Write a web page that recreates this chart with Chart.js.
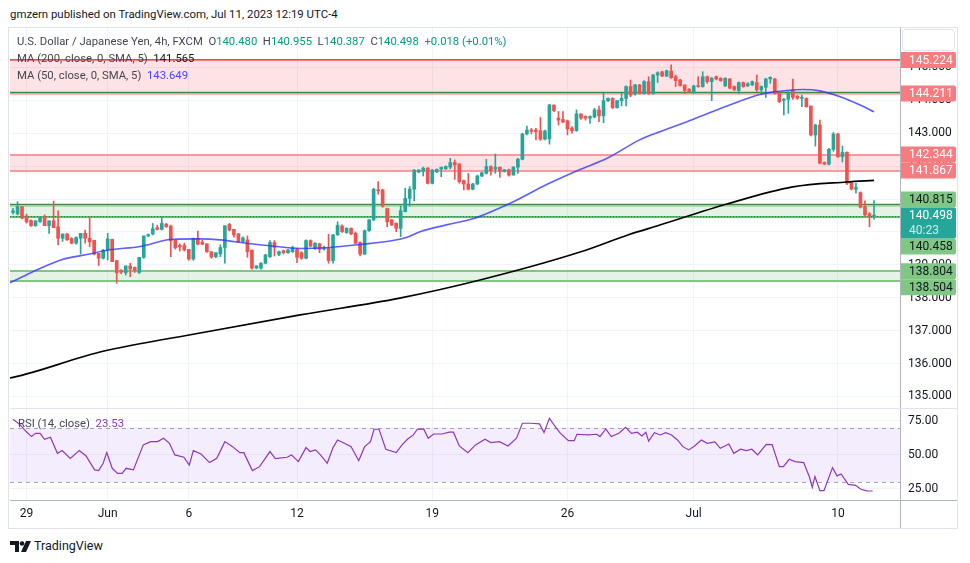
<!DOCTYPE html>
<html><head><meta charset="utf-8">
<script src="https://cdn.jsdelivr.net/npm/chart.js@4.4.0/dist/chart.umd.min.js"></script>
<style>
html,body{margin:0;padding:0;background:#fff;width:970px;height:563px;overflow:hidden;font-family:Roboto,"Noto Sans",sans-serif;color:#131722;}
#wrap{position:relative;width:970px;height:563px;}
canvas{position:absolute;left:0;}
.t{position:absolute;white-space:nowrap;font-size:11.3px;line-height:14px;}
.v{color:#089981;}
</style></head><body>
<div id="wrap">
 <div class="t" style="left:10px;top:7px;font-size:11.4px;color:#131722">gmzern published on TradingView.com, Jul 11, 2023 12:19 UTC-4</div>
 <div style="position:absolute;left:8px;top:27px;width:950px;height:502px;border:1px solid #e0e3eb;box-sizing:border-box"></div>
 <canvas id="main" width="970" height="380" style="top:28px"></canvas>
 <canvas id="rsi" width="970" height="120" style="top:408px"></canvas>
 <div class="t" style="left:17px;top:35px;color:#434651">U.S. Dollar / Japanese Yen, 4h, FXCM&nbsp;&nbsp;O<span class="v">140.480</span>&nbsp;&nbsp;H<span class="v">140.955</span>&nbsp;&nbsp;L<span class="v">140.387</span>&nbsp;&nbsp;C<span class="v">140.498</span>&nbsp;&nbsp;<span class="v">+0.018 (+0.01%)</span></div>
 <div class="t" style="left:17px;top:52px;color:#434651">MA (200, close, 0, SMA, 5)&nbsp;&nbsp;<span style="color:#131722">141.565</span></div>
 <div class="t" style="left:17px;top:69px;color:#434651">MA (50, close, 0, SMA, 5)&nbsp;&nbsp;<span style="color:#4646ff">143.649</span></div>
 <div class="t" style="left:18px;top:417px;color:#434651">RSI (14, close)&nbsp;&nbsp;<span style="color:#9037b8">23.53</span></div>
 <div style="position:absolute;left:902px;top:29px;width:53px;height:22px;border:1px solid #e0e3eb;border-radius:4px;background:#fff;box-sizing:border-box"></div>
 <svg style="position:absolute;left:10px;top:540px" width="24" height="13" viewBox="0 0 24 13">
  <path d="M0 1h9v11H5V5H0z" fill="#131722"/><circle cx="12" cy="3.5" r="2.3" fill="#131722"/><path d="M16 1h5l-5 11h-5z" fill="#131722"/>
 </svg>
 <div class="t" style="left:34px;top:538px;font-size:12.5px;line-height:16px;color:#131722">TradingView</div>
</div>
<script>
// ---------- data ----------
const O = [
140.60,140.55,140.77,140.44,140.35,140.19,140.31,140.47,140.19,140.34,
140.16,139.81,139.94,139.80,139.66,139.81,139.96,139.81,139.75,139.35,
139.20,139.45,139.78,139.13,138.82,138.76,138.97,138.92,138.77,139.23,
139.88,139.94,140.13,140.08,140.24,140.18,139.75,139.59,139.59,139.47,
139.18,139.81,139.69,139.64,139.40,139.25,139.33,139.53,140.23,140.08,
139.94,139.71,139.76,139.45,138.90,138.90,139.05,139.25,139.68,139.32,
139.43,139.37,139.40,139.47,139.37,139.20,139.74,139.50,139.64,139.48,
139.50,139.13,139.91,140.18,139.98,140.11,139.96,139.68,139.33,140.04,
140.37,141.28,141.28,140.71,140.37,140.26,140.11,140.62,141.02,141.30,
141.82,141.85,141.94,141.48,141.83,141.91,141.92,141.97,142.11,142.07,
141.56,141.46,141.30,141.46,141.70,141.78,141.99,141.91,141.97,141.84,
141.89,141.73,141.97,142.21,142.98,143.10,143.10,143.08,142.82,142.83,
143.86,143.46,143.42,143.38,143.16,143.08,143.59,143.51,143.46,143.49,
143.71,143.53,143.99,144.06,143.78,143.99,144.06,144.42,144.19,144.47,
144.21,144.57,144.21,144.77,144.87,144.74,144.89,144.72,144.62,144.47,
144.34,144.24,144.44,144.42,144.72,144.57,144.72,144.67,144.44,144.65,
144.42,144.30,144.54,144.45,144.47,144.54,144.32,144.40,144.65,144.65,
144.21,144.00,144.03,144.32,144.13,144.06,144.06,143.83,142.95,143.25,
142.11,142.06,142.51,142.98,142.29,142.42,141.48,141.30,141.20,140.77,
140.55,140.480];
const H = [
140.72,140.92,140.77,140.54,140.37,140.34,140.46,140.52,140.34,140.94,
140.64,139.94,139.96,139.83,139.85,139.96,140.06,140.44,139.75,139.35,
139.47,139.96,139.78,139.13,138.86,138.97,139.05,138.94,139.23,139.88,
139.94,140.26,140.21,140.46,140.26,140.21,139.75,139.64,139.66,139.47,
139.81,140.03,139.75,139.64,139.40,139.37,139.61,140.19,140.26,140.08,
139.96,139.85,139.88,139.45,138.97,139.07,139.32,139.74,139.74,139.42,
139.45,139.47,139.57,139.50,139.40,139.76,139.76,139.68,139.66,139.57,
139.93,139.93,140.31,140.22,140.13,140.13,140.00,139.70,140.06,140.38,
141.33,141.53,141.30,140.73,140.38,140.28,140.79,141.33,141.38,141.90,
141.90,141.97,141.96,141.90,141.92,141.97,142.01,142.24,142.19,142.07,
141.58,141.78,141.48,141.73,141.82,142.21,142.01,142.37,141.97,141.90,
141.91,141.99,142.24,143.00,143.22,143.15,143.15,143.48,143.10,143.88,
143.86,143.66,143.66,143.40,143.20,143.71,143.59,143.53,143.53,143.76,
143.83,144.21,144.08,144.08,144.00,144.21,144.44,144.62,144.49,144.49,
144.60,144.72,144.79,144.87,144.88,144.92,145.08,144.77,144.64,144.47,
144.36,144.46,144.72,144.87,144.74,144.70,144.74,144.69,144.69,144.67,
144.44,144.56,144.56,144.54,144.59,144.77,144.44,144.67,144.72,144.67,
144.24,144.06,144.27,144.65,144.15,144.16,144.08,143.83,143.27,143.40,
142.13,142.54,143.02,143.00,142.61,142.44,141.50,141.48,141.22,140.95,
140.59,140.955];
const L = [
140.54,140.52,140.40,140.27,140.17,140.17,140.29,140.19,139.96,140.13,
139.61,139.71,139.74,139.64,139.63,139.33,139.66,139.55,139.30,138.98,
139.18,139.15,139.10,138.44,138.73,138.69,138.64,138.77,138.74,139.20,
139.86,139.91,140.06,140.06,140.14,139.25,139.48,139.42,139.42,139.14,
139.14,139.61,139.61,139.38,139.20,139.22,139.25,139.05,140.03,139.84,
139.68,139.68,139.23,138.87,138.88,138.87,139.03,139.23,139.27,139.28,
139.33,139.35,139.38,139.07,139.17,139.18,139.55,139.47,139.37,139.45,
139.05,139.05,139.90,139.99,139.96,139.92,139.64,139.27,139.31,140.02,
140.34,141.15,140.75,140.16,140.20,140.01,139.86,140.61,140.79,140.94,
141.80,141.70,141.46,141.46,141.80,141.68,141.90,141.92,141.60,141.48,
141.28,141.28,141.28,141.44,141.68,141.76,141.73,141.78,141.66,141.82,
141.70,141.73,141.78,142.19,142.95,142.98,142.80,142.78,142.80,142.67,
143.66,143.25,143.32,142.95,143.00,143.06,143.42,143.40,143.30,143.47,
143.35,143.32,143.96,143.75,143.76,143.83,143.83,144.11,144.16,144.19,
144.19,144.18,144.19,144.54,144.72,144.72,144.67,144.42,144.43,144.21,
144.25,144.21,144.40,144.40,144.52,143.99,144.62,144.58,144.42,144.35,
144.30,144.21,144.40,144.42,144.45,144.27,144.19,144.09,144.52,144.19,
143.93,143.56,143.61,144.03,144.03,143.81,143.79,142.92,142.61,142.07,
142.04,142.04,142.45,142.27,142.13,141.44,141.28,141.18,140.73,140.47,
140.16,140.387];
const C = [
140.64,140.77,140.42,140.31,140.19,140.34,140.44,140.19,140.34,140.13,
139.81,139.94,139.76,139.66,139.83,139.96,139.81,139.70,139.33,139.20,
139.45,139.79,139.10,138.76,138.78,138.97,138.87,138.83,139.23,139.88,
139.92,140.10,140.08,140.26,140.16,139.73,139.52,139.55,139.45,139.18,
139.81,139.63,139.63,139.40,139.24,139.37,139.53,140.19,140.06,139.91,
139.71,139.82,139.40,138.90,138.97,139.05,139.30,139.68,139.53,139.40,
139.37,139.45,139.52,139.23,139.20,139.74,139.57,139.66,139.47,139.52,
139.13,139.91,140.20,140.01,140.11,139.94,139.66,139.33,140.04,140.37,
141.30,141.25,140.79,140.31,140.21,140.11,140.65,141.02,141.30,141.88,
141.88,141.94,141.48,141.88,141.90,141.97,141.99,142.11,142.04,141.53,
141.46,141.30,141.46,141.70,141.80,141.99,141.86,141.97,141.85,141.89,
141.73,141.97,142.21,142.98,143.10,143.06,143.05,142.82,143.07,143.86,
143.69,143.40,143.34,143.13,143.08,143.59,143.46,143.46,143.51,143.71,
143.53,143.99,144.06,143.78,143.99,144.06,144.42,144.16,144.47,144.21,
144.57,144.21,144.77,144.84,144.74,144.90,144.69,144.60,144.45,144.30,
144.27,144.44,144.42,144.72,144.57,144.67,144.65,144.60,144.67,144.37,
144.32,144.54,144.42,144.50,144.57,144.32,144.42,144.65,144.70,144.21,
143.96,144.03,144.21,144.09,144.06,144.08,143.81,142.95,143.25,142.09,
142.06,142.51,142.98,142.29,142.42,141.48,141.30,141.35,140.75,140.52,
140.48,140.498];

// moving averages: [bar index, value]
const MA50 = [[-1,138.44],[0,138.50],[4.4,138.79],[10.6,139.15],[17,139.33],[21.1,139.45],[28.2,139.56],[35.5,139.78],[41.5,139.79],[46,139.76],[52.6,139.64],[57,139.58],[63.7,139.50],[70.3,139.53],[77,139.62],[84.3,139.74],[87.4,139.84],[90.3,140.01],[97,140.24],[102,140.40],[111,140.92],[118.5,141.45],[125.8,141.90],[131.8,142.24],[139,142.80],[143.5,143.05],[150.8,143.42],[158.4,143.83],[165.7,144.18],[171.7,144.30],[175.2,144.33],[179,144.29],[183.5,144.11],[187.9,143.86],[191,143.65]];
const MA200 = [[-1,135.56],[0,135.58],[19.3,136.35],[41.5,136.93],[63.7,137.48],[85.8,137.99],[103.6,138.54],[125.8,139.39],[136.4,139.91],[143.5,140.21],[158.4,140.85],[173,141.37],[185,141.52],[191,141.57]];

// RSI: [bar index, value]
const RSI = [[0,76.2],[1.6,72.1],[2.9,67.2],[4.1,63.5],[5,65.9],[6,65.9],[7,61.5],[8.3,63.0],[9.85,51.2],[10.9,53.2],[12.7,47.5],[14.7,53.2],[16.2,49.3],[18.1,39.0],[19,38.5],[20,43.9],[20.8,51.7],[22,40.2],[23.2,36.5],[24.2,36.5],[25.1,40.2],[26.7,39.0],[28.9,57.4],[30.5,59.8],[32.1,59.8],[33.4,62.3],[34.7,58.6],[35.9,50.0],[37.9,48.3],[39.1,42.6],[40,53.2],[41.7,50.7],[43.6,44.4],[45.2,47.5],[47,59.8],[48.7,56.1],[50.3,51.7],[51.2,51.7],[53.1,38.5],[54.7,41.4],[57,52.5],[58.2,47.3],[60.8,48.3],[61.8,50.0],[63.3,45.1],[65,55.4],[65.9,52.5],[67.1,53.7],[68.2,50.0],[69.7,43.9],[71,55.4],[72,61.0],[73.5,58.6],[75,56.1],[76.7,45.8],[78,56.1],[79.3,59.8],[80.1,68.9],[81.2,68.9],[82.7,54.2],[85,51.7],[86.3,57.4],[87.5,61.5],[88.8,64.7],[89.7,68.9],[91.1,69.1],[92.1,62.3],[93.3,65.4],[95.2,65.4],[96.8,66.7],[97.7,66.7],[99,56.6],[100.9,51.7],[102.6,57.4],[104.7,61.5],[106,59.1],[107.9,59.8],[109.8,56.6],[111.7,62.3],[113,73.3],[114.9,73.3],[116.8,72.8],[117.8,66.4],[119,77.0],[120,72.1],[121.3,66.4],[123.2,60.5],[124.5,60.5],[125.1,65.2],[127.6,64.7],[129.5,65.2],[130.2,63.5],[131.5,69.1],[132.7,63.5],[134.4,65.9],[135.9,70.3],[137.2,65.9],[138.5,66.7],[139.5,64.0],[140.4,66.7],[141,60.2],[142.3,66.4],[143.6,64.7],[144.8,66.4],[146.1,64.7],[147.4,61.0],[148.6,56.1],[149.9,53.7],[151.2,56.6],[152.7,61.0],[154,58.6],[155.7,59.6],[156.9,54.9],[158.8,58.1],[159.9,51.2],[161.4,54.2],[162.7,53.2],[163.9,54.2],[165.2,50.0],[167.1,57.8],[168.4,57.6],[170,41.4],[170.9,41.4],[172.2,46.8],[173.5,45.1],[175.4,44.4],[176.7,33.6],[177.3,26.2],[177.9,34.1],[179,23.8],[179.9,23.8],[181.8,40.7],[182.8,34.6],[183.7,36.0],[185.3,28.4],[186.9,27.7],[188.1,24.8],[189.4,23.6],[190.7,23.53]];

const tickIdx = [3,21,39,63,93,123,151,183];
const tickText = ['29','Jun','6','12','19','26','Jul','10'];
const priceTicks = [135,136,137,138,139,140,141,142,143,144,145];
const rsiTicks = [25,50,75];
const redZoneHi = [145.224, 142.344];
const redZoneLo = [144.211, 141.867];
const greenZoneHi = [140.815, 138.804];
const greenZoneLo = [140.458, 138.504];
const lastPrice = 140.498;
const countdown = '40:23';
const rsiBands = [70, 30];

// ---------- styling ----------
const UP = '#26a69a', DOWN = '#ef5350';
const GRID = '#f0f3fa', AXIS = '#b2b5be';
const FONT = 'Roboto, "Noto Sans", sans-serif';
Chart.defaults.font.family = FONT;
Chart.defaults.font.size = 12;
Chart.defaults.color = '#131722';

const body = O.map((o,i)=>({x:i, y:[Math.min(o,C[i]), Math.max(o,C[i])]}));
const wick = O.map((o,i)=>({x:i, y:[L[i], H[i]]}));
const cols = O.map((o,i)=> C[i] >= o ? UP : DOWN);
const toPts = a => a.map(p=>({x:p[0], y:p[1]}));

const xScale = (showLabels) => ({
  type:'linear', min:-0.67, max:196.77, offset:false,
  grid:{color:GRID, offset:false, drawTicks:false},
  border:{display: showLabels, color:AXIS},
  afterBuildTicks: s => { s.ticks = tickIdx.map(v=>({value:v})); },
  afterFit: s => { s.height = showLabels ? 28 : 0; s.paddingLeft = 0; s.paddingRight = 0; s.paddingTop = 0; s.paddingBottom = 0; },
  ticks:{display:showLabels, autoSkip:false, maxRotation:0, padding:7, color:'#131722',
    callback: v => { const k = tickIdx.indexOf(v); return k>=0 ? tickText[k] : ''; }}
});
const yFit = s => { s.width = 70; s.paddingTop = 0; s.paddingBottom = 0; s.paddingLeft = 0; s.paddingRight = 0; };

function hline(ctx, a, y, color, w, dash){
  ctx.save(); ctx.strokeStyle=color; ctx.lineWidth=w; ctx.setLineDash(dash||[]);
  ctx.beginPath(); ctx.moveTo(a.left,y); ctx.lineTo(a.right,y); ctx.stroke(); ctx.restore();
}

const zonesPlugin = {
  id:'zones',
  beforeDatasetsDraw(chart){
    const {ctx, chartArea:a, scales:{y}} = chart;
    ctx.save(); ctx.beginPath(); ctx.rect(a.left,a.top,a.width,a.height); ctx.clip();
    redZoneHi.forEach((hi,k)=>{
      const y1=y.getPixelForValue(hi), y2=y.getPixelForValue(redZoneLo[k]);
      ctx.fillStyle='rgba(242,54,69,0.14)'; ctx.fillRect(a.left,y1,a.width,y2-y1);
    });
    greenZoneHi.forEach((hi,k)=>{
      const y1=y.getPixelForValue(hi), y2=y.getPixelForValue(greenZoneLo[k]);
      ctx.fillStyle='rgba(76,175,80,0.15)'; ctx.fillRect(a.left,y1,a.width,y2-y1);
    });
    const ry = v => Math.round(y.getPixelForValue(v));
    hline(ctx,a,ry(redZoneHi[0])+0.5,'#f77c80',1.2);
    hline(ctx,a,ry(redZoneHi[0])-0.5,'#43a047',1);
    hline(ctx,a,ry(redZoneLo[0])+1,'#f77c80',1.2);
    hline(ctx,a,ry(redZoneLo[0])-0.5,'#388e3c',1.6);
    hline(ctx,a,ry(redZoneHi[1]),'#f77c80',1.6);
    hline(ctx,a,ry(redZoneLo[1]),'#f77c80',1.6);
    hline(ctx,a,ry(greenZoneHi[0])-0.5,'#388e3c',1.6);
    hline(ctx,a,ry(greenZoneHi[0])+1,'#81c784',1);
    hline(ctx,a,ry(greenZoneLo[0]),'#66bb6a',2);
    hline(ctx,a,ry(greenZoneHi[1]),'#81c784',2.2);
    hline(ctx,a,ry(greenZoneLo[1]),'#81c784',2.2);
    hline(ctx,a,Math.round(y.getPixelForValue(lastPrice))+0.5,'#1b7f5e',1,[1,2]);
    ctx.restore();
  },
  afterDraw(chart){
    const {ctx, chartArea:a, scales:{y}} = chart;
    const items = [];
    redZoneHi.concat(redZoneLo).forEach(v=>items.push({v, y:y.getPixelForValue(v), h:16, bg:'#f77c80', fg:'#ffffff'}));
    greenZoneHi.concat(greenZoneLo).forEach(v=>items.push({v, y:y.getPixelForValue(v), h:16, bg:'#81c784', fg:'#131722'}));
    const py = y.getPixelForValue(lastPrice);
    const pin = {top: py-8, bottom: py+23};
    const above = items.filter(it=>it.y < py).sort((p,q)=>q.y-p.y);
    let lim = pin.top;
    above.forEach(it=>{ if(it.y+it.h/2 > lim) it.y = lim-it.h/2; lim = it.y-it.h/2; });
    const below = items.filter(it=>it.y >= py).sort((p,q)=>p.y-q.y);
    lim = pin.bottom;
    below.forEach(it=>{ if(it.y-it.h/2 < lim) it.y = lim+it.h/2; lim = it.y+it.h/2; });
    const x0 = a.right+1, w = 55;
    ctx.save();
    ctx.font = '12px '+FONT; ctx.textBaseline='middle'; ctx.textAlign='left';
    items.forEach(it=>{
      ctx.fillStyle=it.bg; ctx.beginPath(); ctx.roundRect(x0, it.y-it.h/2, w, it.h, [0,2,2,0]); ctx.fill();
      ctx.fillStyle=it.fg; ctx.fillText(it.v.toFixed(3), x0+8, it.y+0.5);
    });
    ctx.fillStyle='#26a69a'; ctx.beginPath(); ctx.roundRect(x0, pin.top, w, pin.bottom-pin.top, [0,2,2,0]); ctx.fill();
    ctx.fillStyle='#ffffff'; ctx.fillText(lastPrice.toFixed(3), x0+8, py+0.5);
    ctx.fillStyle='rgba(255,255,255,0.78)'; ctx.fillText(countdown, x0+8, py+15.5);
    ctx.restore();
  }
};

new Chart(document.getElementById('main'), {
  type:'bar',
  data:{datasets:[
    {type:'line', data:toPts(MA50), borderColor:'rgba(50,50,255,0.78)', borderWidth:1.6, pointRadius:0, cubicInterpolationMode:'monotone', order:1},
    {type:'line', data:toPts(MA200), borderColor:'#000000', borderWidth:1.6, pointRadius:0, cubicInterpolationMode:'monotone', order:1},
    {type:'bar', data:wick, backgroundColor:cols, barThickness:1, grouped:false, borderWidth:0, borderSkipped:false, order:3},
    {type:'bar', data:body, backgroundColor:cols, barThickness:3, minBarLength:1, grouped:false, borderWidth:0, borderSkipped:false, order:2}
  ]},
  options:{
    responsive:false, animation:false, events:[],
    layout:{padding:{left:10,right:0,top:0,bottom:0}},
    plugins:{legend:{display:false}, tooltip:{enabled:false}},
    scales:{
      x: xScale(false),
      y:{type:'linear', position:'right', min:134.65, max:146.2,
         grid:{color:GRID, drawTicks:false}, border:{color:AXIS},
         afterBuildTicks: s => { s.ticks = priceTicks.map(v=>({value:v})); },
         afterFit: yFit,
         ticks:{padding:8, color:'#131722', callback: v => Number(v).toFixed(3)}}
    }
  },
  plugins:[zonesPlugin]
});

const rsiPlugin = {
  id:'rsiBands',
  beforeDatasetsDraw(chart){
    const {ctx, chartArea:a, scales:{y}} = chart;
    const y1=y.getPixelForValue(rsiBands[0]), y2=y.getPixelForValue(rsiBands[1]);
    ctx.save();
    ctx.fillStyle='rgba(149,76,233,0.10)'; ctx.fillRect(a.left,y1,a.width,y2-y1);
    hline(ctx,a,Math.round(y1)+0.5,'#a3a6af',1,[4,4]);
    hline(ctx,a,Math.round(y2)+0.5,'#a3a6af',1,[4,4]);
    ctx.restore();
  },
  afterDraw(chart){
    const {ctx, chartArea:a} = chart;
    ctx.save();
    ctx.strokeStyle='#e0e3eb'; ctx.lineWidth=1;
    ctx.beginPath(); ctx.moveTo(a.left,0.5); ctx.lineTo(957,0.5); ctx.stroke();
    ctx.strokeStyle=AXIS;
    ctx.beginPath(); ctx.moveTo(a.right+0.5,a.bottom); ctx.lineTo(a.right+0.5,120); ctx.stroke();
    ctx.beginPath(); ctx.moveTo(a.right,a.bottom+0.5); ctx.lineTo(957,a.bottom+0.5); ctx.stroke();
    ctx.restore();
  }
};

new Chart(document.getElementById('rsi'), {
  type:'line',
  data:{datasets:[
    {data:toPts(RSI), borderColor:'#9037b8', borderWidth:1.2, pointRadius:0, tension:0}
  ]},
  options:{
    responsive:false, animation:false, events:[],
    layout:{padding:{left:10,right:0,top:0,bottom:0}},
    plugins:{legend:{display:false}, tooltip:{enabled:false}},
    scales:{
      x: xScale(true),
      y:{type:'linear', position:'right', min:16.9, max:84.5,
         grid:{color:GRID, drawTicks:false}, border:{color:AXIS},
         afterBuildTicks: s => { s.ticks = rsiTicks.map(v=>({value:v})); },
         afterFit: yFit,
         ticks:{padding:8, color:'#131722', callback: v => Number(v).toFixed(2)}}
    }
  },
  plugins:[rsiPlugin]
});
</script>
</body></html>
